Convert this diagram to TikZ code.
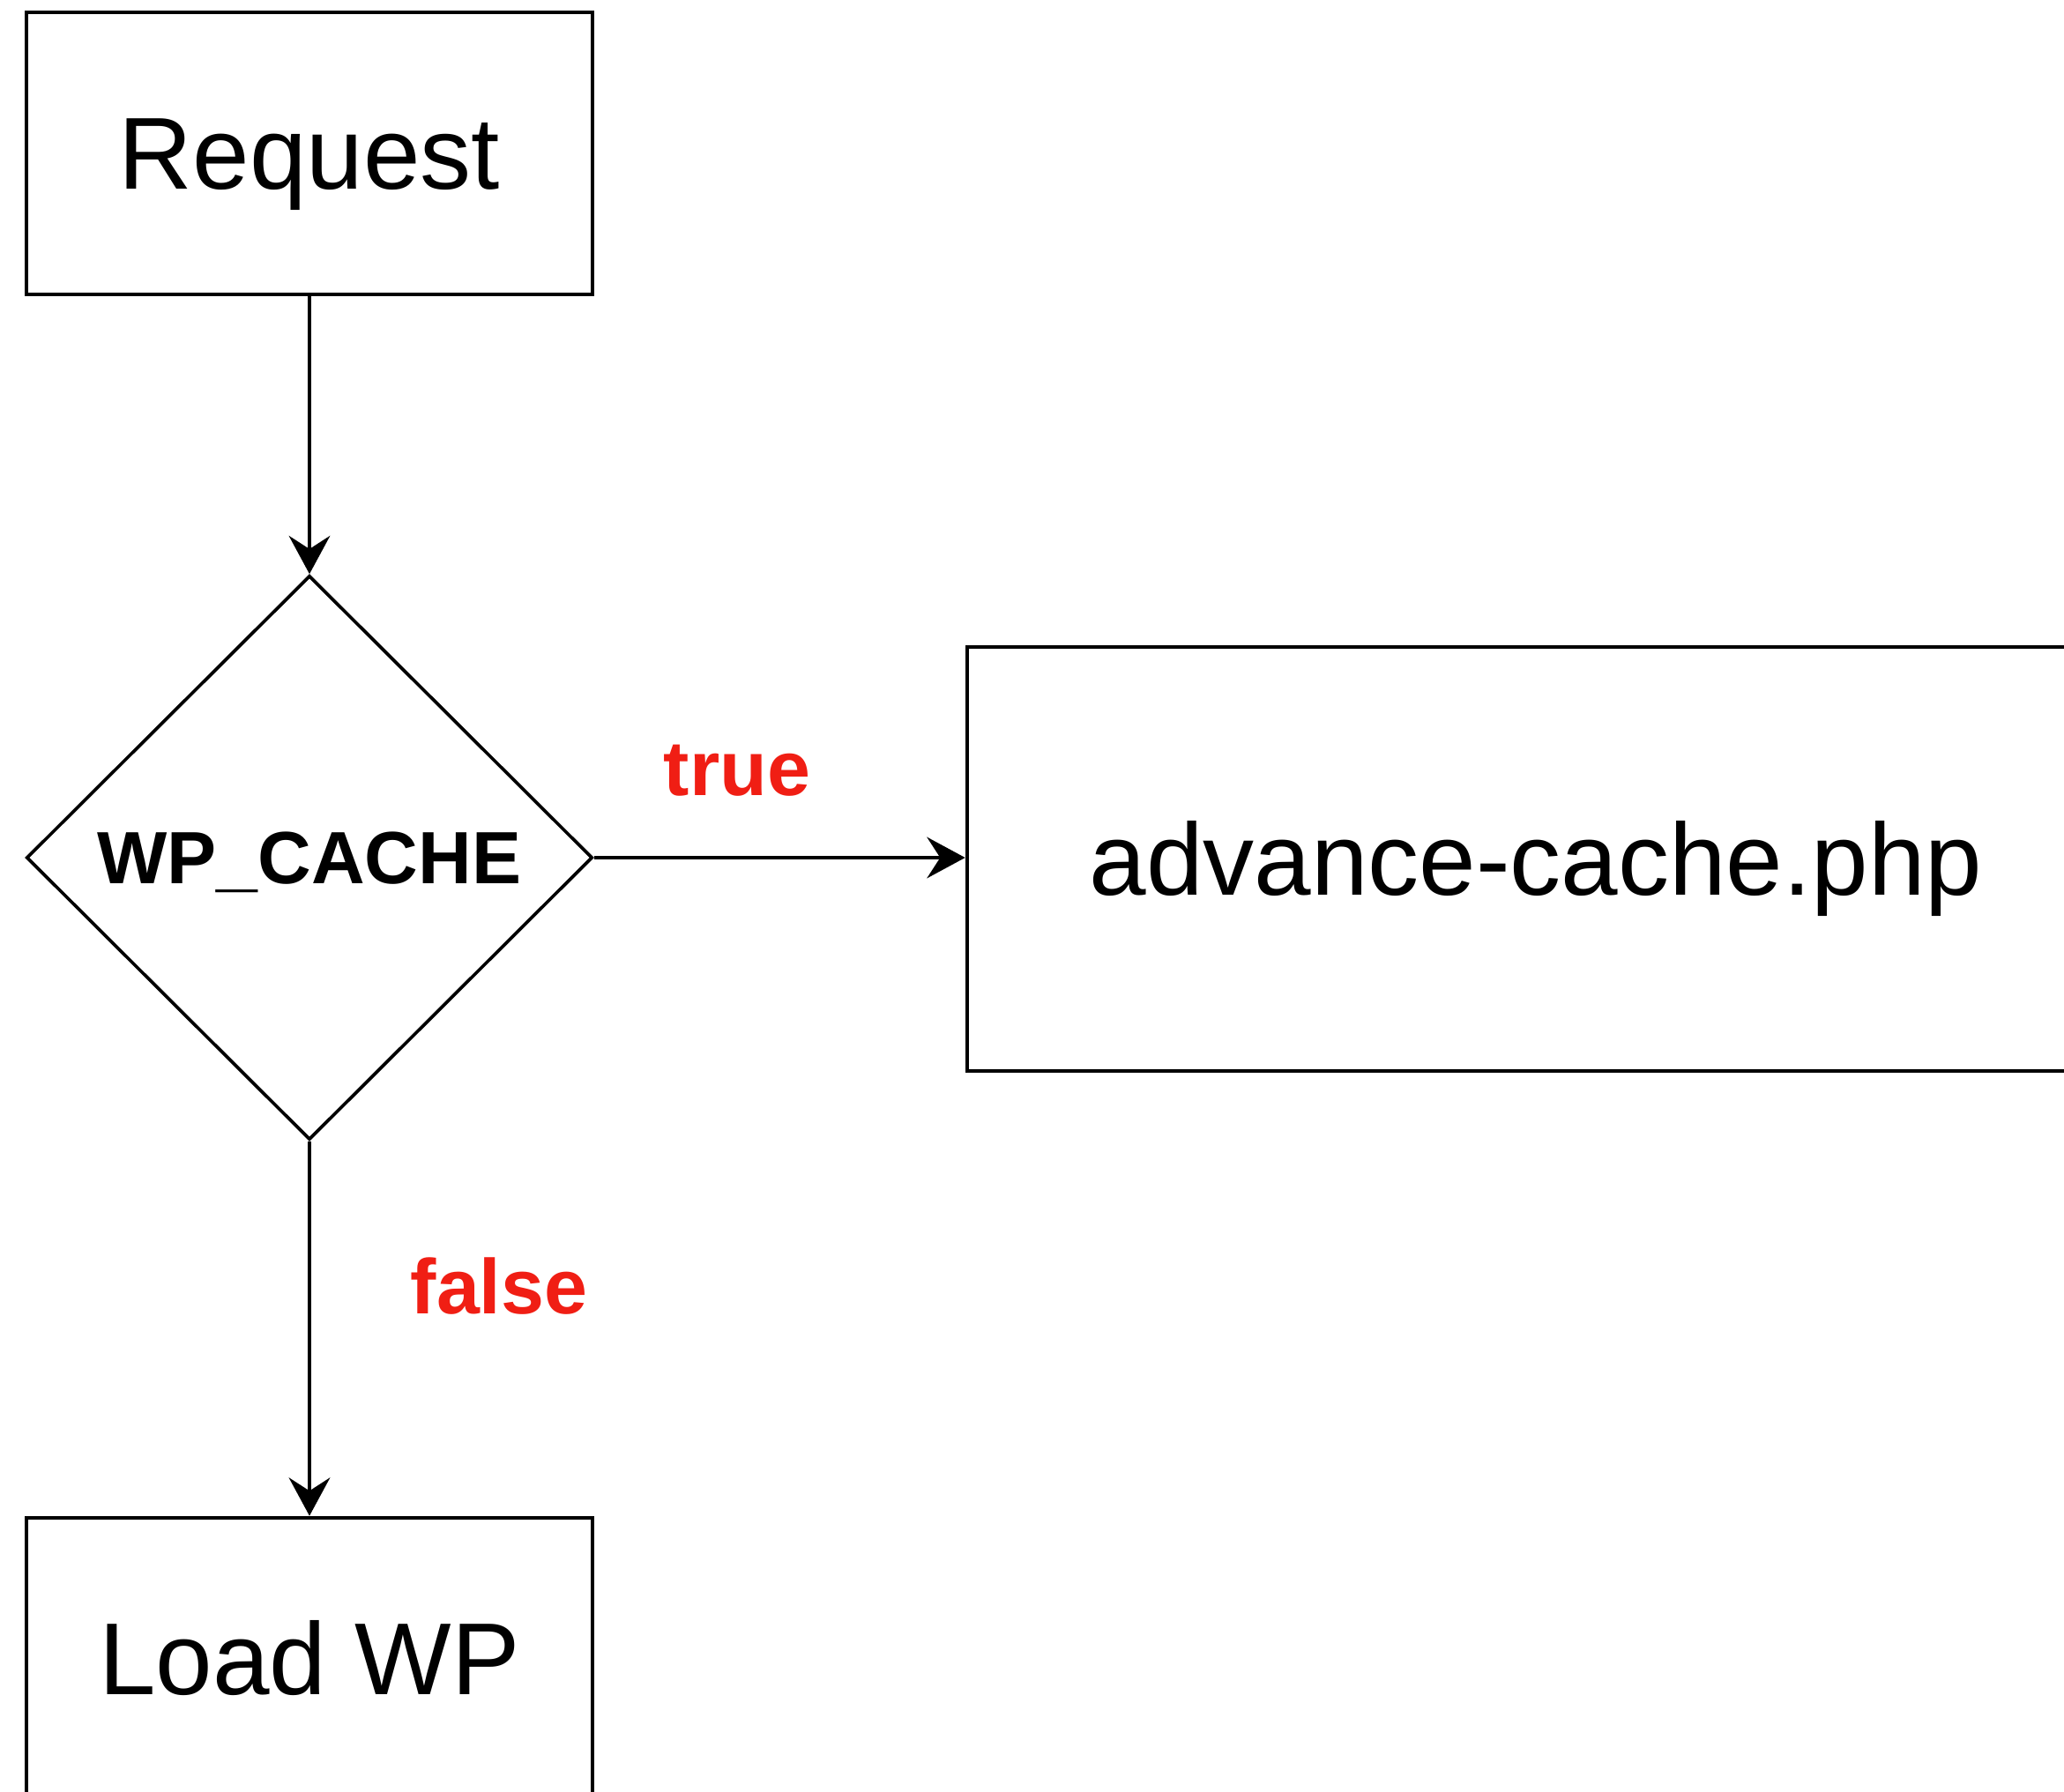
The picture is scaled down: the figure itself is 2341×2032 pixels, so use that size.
\documentclass[tikz,border=0pt]{standalone}
\usepackage{fontspec}
\setmainfont{Liberation Sans}
\usetikzlibrary{shapes.geometric,arrows.meta}
\definecolor{lblred}{RGB}{240,30,20}
\tikzset{
  box/.style={draw=black, line width=1.4pt, rectangle, inner sep=0pt,
    minimum width=192.6pt, minimum height=96pt, text height=24.4pt, text depth=0pt,
    font=\fontsize{34.8pt}{40pt}\selectfont},
  decision/.style={draw=black, line width=1.1pt, diamond, inner sep=0pt, aspect=1,
    minimum width=192.6pt, minimum height=192pt, text height=17.6pt, text depth=0pt,
    font=\fontsize{25.2pt}{30pt}\selectfont\bfseries},
  lbl/.style={text=lblred, anchor=base, inner sep=0pt,
    font=\fontsize{26.4pt}{30pt}\selectfont\bfseries},
  arr/.style={draw=black, line width=1.1pt, -{Stealth[length=13pt, width=14pt, inset=4.5pt]}}
}
\begin{document}
\begin{tikzpicture}[x=0.3pt, y=-0.3pt]
  \useasboundingbox (0,0) rectangle (2341,2032);
  \clip (0,0) rectangle (2341,2032);
  \fill[white] (0,0) rectangle (2341,2032);
  \node[box] (req) at (351,174) {Request};
  \node[decision] (dia) at (351,973) {WP\_CACHE};
  \node[box, minimum width=387pt, minimum height=144.3pt] (adv) at (1742,974.5) {advance-cache.php};
  \node[box] (load) at (351,1882) {Load WP};
  \node[lbl] (ltrue) at (836,902) {true};
  \node[lbl] (lfalse) at (566,1490) {false};
  \draw[arr] (req.south) -- (dia.north);
  \draw[arr] (dia.east) -- (dia.east -| adv.west);
  \draw[arr] (dia.south) -- (load.north);
\end{tikzpicture}
\end{document}
